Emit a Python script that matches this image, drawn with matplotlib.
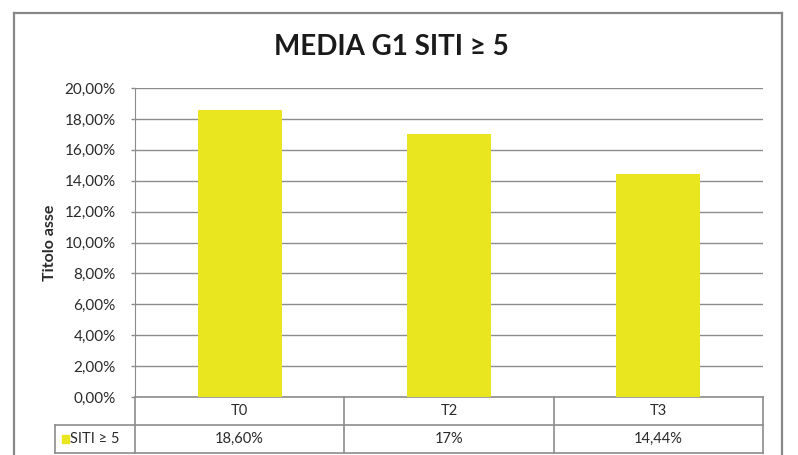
import matplotlib.pyplot as plt
import matplotlib.transforms as mtransforms
from matplotlib.lines import Line2D
from matplotlib.patches import Rectangle
import numpy as np

# Data
categories = ["T0", "T2", "T3"]
values = [18.60, 17.00, 14.44]
value_labels = ["18,60%", "17%", "14,44%"]
series_name = "SITI \u2265 5"
title = "MEDIA G1 SITI \u2265 5"
y_ticks = [0, 2, 4, 6, 8, 10, 12, 14, 16, 18, 20]

bar_color = "#E9E51E"
line_gray = "#8c8c8c"
text_color = "#2a2a2a"
fonts = ["Lato", "DejaVu Sans"]
plt.rcParams["font.family"] = fonts

W, H = 798, 455
fig = plt.figure(figsize=(W / 100, H / 100), dpi=100)

# outer chart frame
for xs, ys in [([14, 14], [0, H - 13]), ([14, 782], [H - 13, H - 13]), ([782, 782], [H - 13, 0])]:
    fig.add_artist(Line2D(np.array(xs) / W, np.array(ys) / H, color="#888888", lw=1.6,
                          transform=fig.transFigure))

ax = fig.add_axes([135 / W, (H - 397) / H, 628 / W, 309 / H])
x = np.arange(len(categories))
ax.bar(x, values, width=0.40, color=bar_color, zorder=3)

ax.set_xlim(-0.5, len(categories) - 0.5)
ax.set_ylim(0, 20)
ax.set_yticks(y_ticks)
ax.set_yticklabels([f"{t:.2f}%".replace(".", ",") for t in y_ticks], fontsize=11, color=text_color)
ax.set_xticks([])
ax.tick_params(axis="y", length=3, color=line_gray, width=1, pad=11)
ax.yaxis.grid(True, color=line_gray, lw=1)
ax.set_axisbelow(True)
for s in ["top", "right", "bottom"]:
    ax.spines[s].set_visible(False)
ax.spines["left"].set_color(line_gray)
ax.spines["left"].set_bounds(0, 20)

ax.set_ylabel("Titolo asse", fontsize=11.5, fontweight="bold", color=text_color)
ax.yaxis.set_label_coords(-0.124, 0.5)

fig.text(0.49, 1 - 47 / H, title, ha="center", va="center", fontsize=20, fontweight="bold",
         color="#1a1a1a")

# data table below the axis
trans = mtransforms.blended_transform_factory(ax.transData, ax.transAxes)
rh = 28 / 309
x0, x1 = -0.5, len(categories) - 0.5
xl = -0.5 - 80 / (628 / 3)
kw = dict(color=line_gray, lw=1.2, transform=trans, clip_on=False)
ax.plot([x0, x1], [0, 0], **kw)
ax.plot([xl, x1], [-rh, -rh], **kw)
ax.plot([xl, x1], [-2 * rh, -2 * rh], **kw)
ax.plot([xl, xl], [-rh, -2 * rh], **kw)
for b in np.arange(len(categories) + 1) - 0.5:
    ax.plot([b, b], [0, -2 * rh], **kw)

for i, cat in enumerate(categories):
    ax.text(i, -rh / 2, cat, ha="center", va="center", fontsize=10.5, color=text_color, transform=trans)
    ax.text(i, -1.5 * rh, value_labels[i], ha="center", va="center", fontsize=10.5, color=text_color,
            transform=trans)

ax.add_patch(Rectangle((xl + 0.035, -1.5 * rh - 0.013), 0.032, 0.026, color=bar_color,
                       transform=trans, clip_on=False))
ax.text(xl + 0.072, -1.5 * rh, series_name, ha="left", va="center", fontsize=10.5, color=text_color,
        transform=trans)

fig.savefig("out.png", dpi=100)
